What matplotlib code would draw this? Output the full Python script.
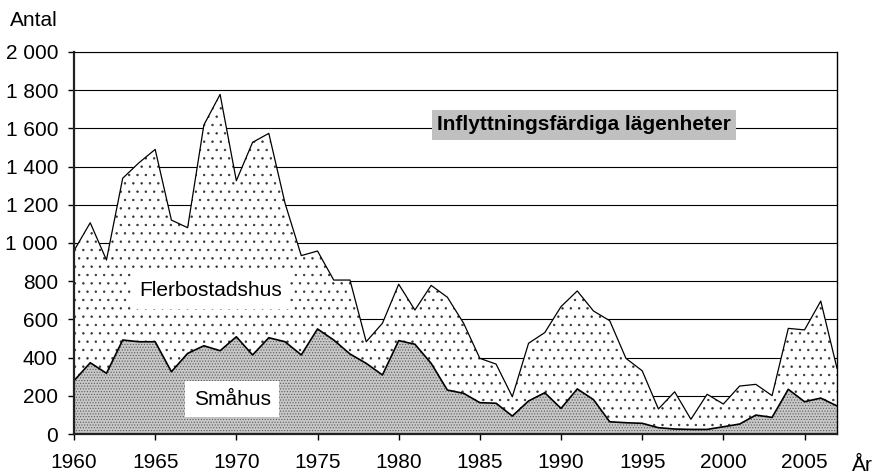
import matplotlib
matplotlib.use('Agg')
import matplotlib.pyplot as plt
from matplotlib.ticker import FuncFormatter

plt.rcParams['font.family'] = ['Liberation Sans', 'DejaVu Sans']
plt.rcParams['hatch.linewidth'] = 0.5

# data
years = list(range(1960, 2008))
smahus = [279, 373, 318, 492, 483, 483, 326, 422, 462, 436,
          509, 414, 504, 483, 414, 550, 492, 419, 370, 309,
          489, 470, 370, 230, 213, 164, 161, 94, 173, 216,
          134, 236, 180, 64, 59, 56, 33, 26, 24, 24,
          38, 52, 99, 87, 234, 169, 188, 147]
totalt = [960, 1106, 911, 1339, 1420, 1490, 1120, 1080, 1618, 1778,
          1326, 1527, 1574, 1208, 934, 958, 806, 806, 483, 580,
          784, 649, 778, 716, 580, 396, 366, 195, 475, 531,
          667, 749, 644, 593, 396, 331, 131, 221, 77, 208,
          157, 251, 260, 201, 553, 545, 696, 344]
yticks = list(range(0, 2001, 200))
xticks = list(range(1960, 2006, 5))

fig = plt.figure(figsize=(8.74, 4.73), dpi=100)
ax = fig.add_axes([74/874, 39/473, (837-74)/874, (434-52)/473])

# fylld yta, gridlines bakom
ax.fill_between(years, smahus, totalt, facecolor='white', edgecolor='#333333',
                hatch='..', linewidth=0, zorder=1)
ax.fill_between(years, 0, smahus, facecolor='#c8c8c8', edgecolor='#5a5a5a',
                hatch='......', linewidth=0, zorder=1)
ax.plot(years, totalt, color='black', lw=0.9, zorder=2)
ax.plot(years, smahus, color='black', lw=1.2, zorder=2)

ax.set_xlim(1960, 2007)
ax.set_ylim(0, 2000)
ax.set_yticks(yticks)
ax.set_xticks(xticks)
ax.yaxis.set_major_formatter(FuncFormatter(lambda v, p: f'{int(v):,}'.replace(',', ' ')))
ax.grid(axis='y', color='black', lw=0.8)
ax.set_axisbelow(True)
ax.tick_params(direction='out', length=4.5, width=1, labelsize=15, colors='black')
ax.tick_params(axis='x', pad=9)
ax.tick_params(axis='y', pad=7)

for s in ['left', 'bottom']:
    ax.spines[s].set_linewidth(1.6)
    ax.spines[s].set_color('#222222')
ax.spines['right'].set_linewidth(1)
ax.spines['top'].set_linewidth(0.8)
for s in ax.spines.values():
    s.set_zorder(3)

ax.text(1991.4, 1618, 'Inflyttningsfärdiga lägenheter', fontsize=15, fontweight='bold',
        ha='center', va='center', zorder=4,
        bbox=dict(boxstyle='square,pad=0.25', fc='#c0c0c0', ec='none'))
ax.text(1968.4, 749, 'Flerbostadshus', fontsize=15, ha='center', va='center', zorder=4,
        bbox=dict(boxstyle='square,pad=0.4', fc='white', ec='none'))
ax.text(1969.75, 183, 'Småhus', fontsize=15, ha='center', va='center', zorder=4,
        bbox=dict(boxstyle='square,pad=0.4', fc='white', ec='none'))

fig.text(58/874, 1 - 26/473, 'Antal', fontsize=15, ha='right', va='baseline')
fig.text(852/874, 1 - 465/473, 'År', fontsize=15, ha='left', va='center')

fig.savefig('out.png', dpi=100)
